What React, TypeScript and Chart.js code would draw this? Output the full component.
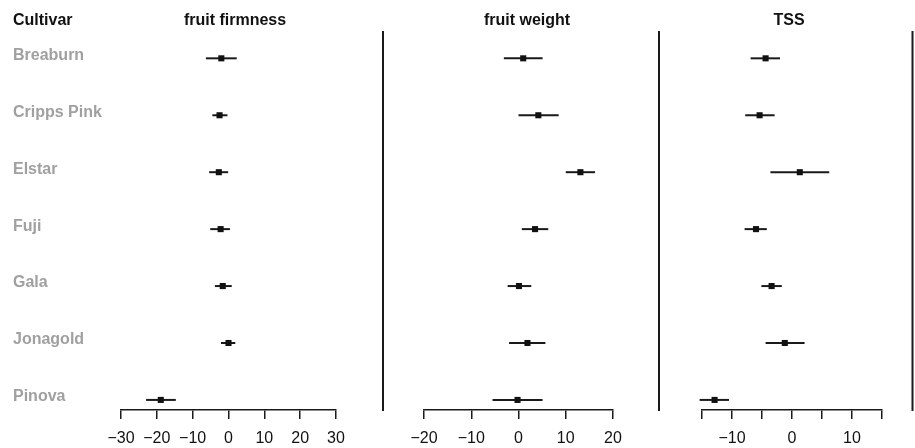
import React, { useEffect, useRef } from 'react';
import { Chart, registerables } from 'chart.js';

Chart.register(...registerables);

const cultivars = ['Breaburn', 'Cripps Pink', 'Elstar', 'Fuji', 'Gala', 'Jonagold', 'Pinova'];

const firmnessMean = [-2.0, -2.5, -2.7, -2.2, -1.6, 0.0, -18.9];
const firmnessLow = [-6.3, -4.5, -5.4, -5.1, -3.8, -2.1, -23.0];
const firmnessHigh = [2.3, -0.3, -0.1, 0.4, 0.9, 1.9, -14.7];

const weightMean = [1.0, 4.2, 13.1, 3.5, 0.1, 1.9, -0.2];
const weightLow = [-3.1, 0.0, 10.0, 0.7, -2.3, -2.0, -5.5];
const weightHigh = [5.1, 8.5, 16.2, 6.3, 2.7, 5.7, 5.1];

const tssMean = [-4.4, -5.4, 1.3, -6.0, -3.4, -1.2, -12.9];
const tssLow = [-6.9, -7.8, -3.6, -7.9, -5.1, -4.4, -15.4];
const tssHigh = [-2.0, -2.9, 6.2, -4.2, -1.7, 2.1, -10.5];

const firmnessTicks = [-30, -20, -10, 0, 10, 20, 30];
const firmnessLabels = [-30, -20, -10, 0, 10, 20, 30];
const weightTicks = [-20, -10, 0, 10, 20];
const weightLabels = [-20, -10, 0, 10, 20];
const tssTicks = [-15, -10, -5, 0, 5, 10, 15];
const tssLabels = [-10, 0, 10];

const FONT = '"Liberation Sans", Arial, Helvetica, sans-serif';
const INK = '#1a1a1a';

const fmt = (v: number) => (v < 0 ? '\u2212' + Math.abs(v) : String(v));

type PanelProps = {
  title: string;
  titleX: number;
  mean: number[];
  low: number[];
  high: number[];
  min: number;
  max: number;
  tickValues: number[];
  labeledTicks: number[];
  left: number;
  width: number;
  padLeft: number;
  padRight: number;
  sepX: number;
  showLabels: boolean;
};

function Panel(p: PanelProps) {
  const ref = useRef<HTMLCanvasElement>(null);
  useEffect(() => {
    if (!ref.current) return;
    const datasets: any[] = [
      {
        label: 'estimate',
        data: p.mean.map((v, i) => ({ x: v, y: i })),
        pointStyle: 'rect',
        pointRadius: 4.3,
        backgroundColor: '#111',
        borderColor: '#111',
        borderWidth: 0,
        showLine: false,
        order: 0,
        clip: false,
      },
      ...p.low.map((lo, i) => ({
        label: 'ci ' + cultivars[i],
        data: [
          { x: lo, y: i },
          { x: p.high[i], y: i },
        ],
        showLine: true,
        borderColor: INK,
        borderWidth: 2,
        pointRadius: 0,
        order: 1,
        clip: false,
      })),
    ];
    const decor = {
      id: 'decor',
      afterDraw(chart: any) {
        const ctx = chart.ctx;
        const ca = chart.chartArea;
        ctx.save();
        ctx.strokeStyle = INK;
        ctx.lineWidth = 2;
        ctx.beginPath();
        ctx.moveTo(p.sepX, ca.top);
        ctx.lineTo(p.sepX, ca.bottom + 1);
        ctx.stroke();
        ctx.fillStyle = '#111';
        ctx.font = `bold 16px ${FONT}`;
        ctx.textAlign = 'center';
        ctx.textBaseline = 'alphabetic';
        ctx.fillText(p.title, p.titleX, 24.5);
        if (p.showLabels) {
          ctx.textAlign = 'left';
          ctx.fillText('Cultivar', 13, 24.5);
        }
        ctx.restore();
      },
    };
    const chart = new Chart(ref.current, {
      type: 'scatter',
      data: { datasets },
      plugins: [decor],
      options: {
        animation: false,
        responsive: false,
        layout: { padding: { left: p.padLeft, right: p.padRight, top: 31, bottom: 0 } },
        plugins: {
          legend: { display: false },
          tooltip: { enabled: false },
          title: { display: false },
        },
        scales: {
          x: {
            type: 'linear',
            position: 'bottom',
            min: p.min,
            max: p.max,
            afterBuildTicks: (s: any) => {
              s.ticks = p.tickValues.map((v) => ({ value: v }));
            },
            afterFit: (s: any) => {
              s.height = 38;
            },
            ticks: {
              autoSkip: false,
              maxRotation: 0,
              padding: 10,
              color: '#111',
              font: { family: FONT, size: 16 },
              callback: (v: any) => (p.labeledTicks.includes(Number(v)) ? fmt(Number(v)) : ''),
            },
            grid: {
              display: true,
              drawOnChartArea: false,
              drawTicks: true,
              tickLength: 9,
              color: INK,
              lineWidth: 1.5,
            },
            border: { display: true, color: INK, width: 1.5 },
          },
          y: {
            type: 'linear',
            reverse: true,
            min: -0.48,
            max: 6.177,
            display: p.showLabels,
            afterBuildTicks: (s: any) => {
              s.ticks = cultivars.map((_, i) => ({ value: i }));
            },
            afterFit: (s: any) => {
              s.width = p.showLabels ? 108 : 0;
            },
            ticks: {
              autoSkip: false,
              crossAlign: 'far',
              labelOffset: -3,
              color: '#a0a0a0',
              font: { family: FONT, size: 16, weight: 'bold' },
              callback: (v: any) => cultivars[Number(v)] ?? '',
            },
            grid: { display: false },
            border: { display: false },
          },
        },
      } as any,
    });
    return () => chart.destroy();
  }, []);
  return (
    <div style={{ position: 'absolute', left: p.left, top: 0, width: p.width, height: 448 }}>
      <canvas ref={ref} width={p.width} height={448} style={{ display: 'block' }} />
    </div>
  );
}

export default function App() {
  return (
    <div
      style={{
        position: 'fixed',
        left: 0,
        top: 0,
        width: 915,
        height: 448,
        background: '#fff',
        overflow: 'hidden',
      }}
    >
      <Panel
        title="fruit firmness"
        titleX={235}
        mean={firmnessMean}
        low={firmnessLow}
        high={firmnessHigh}
        min={-30}
        max={30}
        tickValues={firmnessTicks}
        labeledTicks={firmnessLabels}
        left={0}
        width={385}
        padLeft={13}
        padRight={49}
        sepX={383}
        showLabels={true}
      />
      <Panel
        title="fruit weight"
        titleX={142}
        mean={weightMean}
        low={weightLow}
        high={weightHigh}
        min={-20}
        max={20}
        tickValues={weightTicks}
        labeledTicks={weightLabels}
        left={385}
        width={275}
        padLeft={39}
        padRight={47}
        sepX={274}
        showLabels={false}
      />
      <Panel
        title="TSS"
        titleX={129}
        mean={tssMean}
        low={tssLow}
        high={tssHigh}
        min={-15}
        max={15}
        tickValues={tssTicks}
        labeledTicks={tssLabels}
        left={660}
        width={255}
        padLeft={42}
        padRight={33}
        sepX={252.5}
        showLabels={false}
      />
    </div>
  );
}
